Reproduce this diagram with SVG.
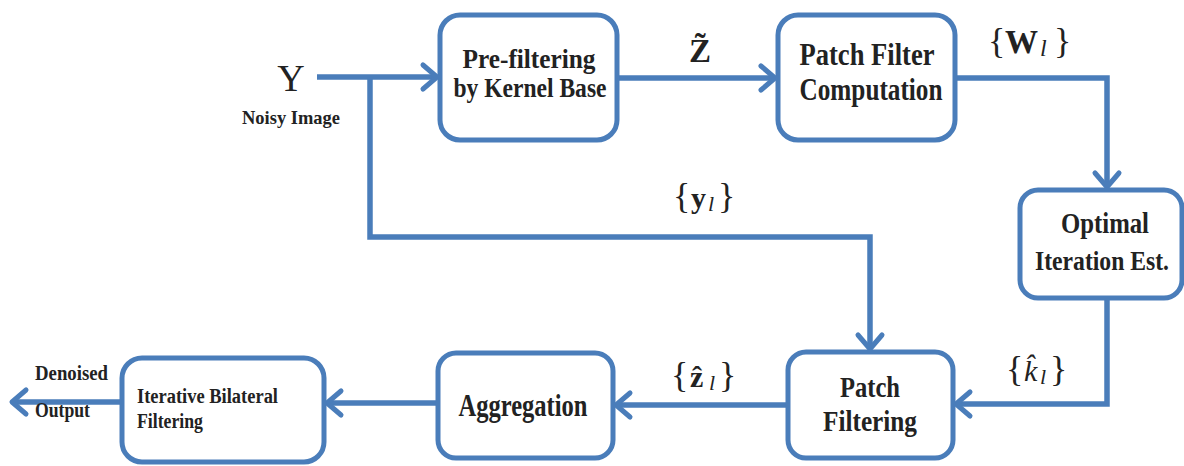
<svg xmlns="http://www.w3.org/2000/svg" width="1184" height="466" viewBox="0 0 1184 466">
  <style>
    .box { fill: #ffffff; stroke: #4a7dba; stroke-width: 5; }
    .wire { fill: none; stroke: #4a7dba; stroke-width: 5.5; stroke-linejoin: miter; }
    .lbl { font-family: "Liberation Serif", "Times New Roman", serif; font-weight: bold; fill: #222222; text-anchor: middle; }
    .lbl-left { font-family: "Liberation Serif", "Times New Roman", serif; font-weight: bold; fill: #222222; text-anchor: start; }
    .math { font-family: "Liberation Serif", "DejaVu Serif", serif; fill: #222222; }
    .bf { font-weight: bold; }
    .it { font-style: italic; }
  </style>
  <defs>
    <marker id="arrow" markerUnits="userSpaceOnUse" viewBox="-22 -16 26 32" refX="0" refY="0" markerWidth="26" markerHeight="32" orient="auto">
      <path d="M-14,-12 L0,0 L-14,12" fill="none" stroke="#4a7dba" stroke-width="5" stroke-linecap="round" stroke-linejoin="round"/>
    </marker>
  </defs>

  <rect width="1184" height="466" fill="#ffffff"/>

  <!-- connectors -->
  <g id="connectors">
    <path class="wire" d="M317,77 L437,77" marker-end="url(#arrow)"/>
    <path class="wire" d="M370,77 L370,237 L870,237 L870,349" marker-end="url(#arrow)"/>
    <path class="wire" d="M617,78 L775,78" marker-end="url(#arrow)"/>
    <path class="wire" d="M955,78 L1107,78 L1107,187" marker-end="url(#arrow)"/>
    <path class="wire" d="M1107,298 L1107,404 L956,404" marker-end="url(#arrow)"/>
    <path class="wire" d="M788,405 L616,405" marker-end="url(#arrow)"/>
    <path class="wire" d="M438,403 L327,403" marker-end="url(#arrow)"/>
    <path class="wire" d="M122,402 L12,402" marker-end="url(#arrow)"/>
  </g>

  <!-- input -->
  <g id="input">
    <text class="math" x="291" y="91" font-size="38" text-anchor="middle">Y</text>
    <text class="lbl" x="291" y="124" font-size="19" textLength="98" lengthAdjust="spacingAndGlyphs">Noisy Image</text>
  </g>

  <g id="prefiltering">
    <rect class="box" x="440" y="15" width="177" height="125" rx="20"/>
    <text class="lbl" x="529" y="68" font-size="27" textLength="133" lengthAdjust="spacingAndGlyphs">Pre-filtering</text>
    <text class="lbl" x="530" y="97" font-size="27" textLength="153" lengthAdjust="spacingAndGlyphs">by Kernel Base</text>
  </g>

  <g id="patch-filter-computation">
    <rect class="box" x="778" y="15" width="177" height="125" rx="20"/>
    <text class="lbl" x="867" y="65" font-size="32" textLength="135" lengthAdjust="spacingAndGlyphs">Patch Filter</text>
    <text class="lbl" x="871" y="100" font-size="32" textLength="143" lengthAdjust="spacingAndGlyphs">Computation</text>
  </g>

  <g id="optimal-iteration">
    <rect class="box" x="1020" y="190" width="162" height="108" rx="18"/>
    <text class="lbl" x="1105" y="233" font-size="29" textLength="88" lengthAdjust="spacingAndGlyphs">Optimal</text>
    <text class="lbl" x="1102" y="270" font-size="28" textLength="134" lengthAdjust="spacingAndGlyphs">Iteration Est.</text>
  </g>

  <g id="patch-filtering">
    <rect class="box" x="788" y="352" width="165" height="106" rx="18"/>
    <text class="lbl" x="870" y="397" font-size="30" textLength="60" lengthAdjust="spacingAndGlyphs">Patch</text>
    <text class="lbl" x="870" y="431" font-size="30" textLength="94" lengthAdjust="spacingAndGlyphs">Filtering</text>
  </g>

  <g id="aggregation">
    <rect class="box" x="438" y="353" width="175" height="105" rx="18"/>
    <text class="lbl" x="523" y="416" font-size="32" textLength="129" lengthAdjust="spacingAndGlyphs">Aggregation</text>
  </g>

  <g id="iterative-bilateral">
    <rect class="box" x="122" y="358" width="202" height="104" rx="20"/>
    <text class="lbl-left" x="137" y="403" font-size="20" textLength="141" lengthAdjust="spacingAndGlyphs">Iterative Bilateral</text>
    <text class="lbl-left" x="137" y="428" font-size="20" textLength="66" lengthAdjust="spacingAndGlyphs">Filtering</text>
  </g>

  <g id="output">
    <text class="lbl-left" x="35" y="380" font-size="20" textLength="73" lengthAdjust="spacingAndGlyphs">Denoised</text>
    <text class="lbl-left" x="35" y="417" font-size="20" textLength="55" lengthAdjust="spacingAndGlyphs">Output</text>
  </g>

  <!-- signal labels -->
  <g id="label-z-tilde">
    <text class="math bf" x="700" y="62" font-size="33" text-anchor="middle">Z&#x0303;</text>
  </g>

  <g id="label-w">
    <text class="math" y="53" font-size="36">
      <tspan x="988">{</tspan><tspan class="bf" x="1005" font-size="33">W</tspan><tspan class="it" x="1040" font-size="24" dy="3">l</tspan><tspan x="1054" dy="-3">}</tspan>
    </text>
  </g>

  <g id="label-y">
    <text class="math" y="208" font-size="36">
      <tspan x="673">{</tspan><tspan class="bf" x="691" font-size="30">y</tspan><tspan class="it" x="708" font-size="22" dy="3">l</tspan><tspan x="718" dy="-3">}</tspan>
    </text>
  </g>

  <g id="label-z-hat">
    <text class="math" y="387" font-size="36">
      <tspan x="671">{</tspan><tspan class="bf" x="690" font-size="30">z&#x0302;</tspan><tspan class="it" x="709" font-size="22" dy="3">l</tspan><tspan x="719" dy="-3">}</tspan>
    </text>
  </g>

  <g id="label-k-hat">
    <text class="math" y="381" font-size="36">
      <tspan x="1006">{</tspan><tspan class="it" x="1024" font-size="30">k&#x0302;</tspan><tspan class="it" x="1040" font-size="22" dy="3">l</tspan><tspan x="1050" dy="-3">}</tspan>
    </text>
  </g>
</svg>
